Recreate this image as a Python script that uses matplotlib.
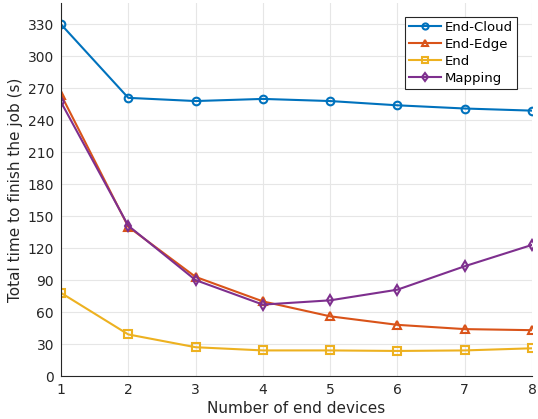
import matplotlib
matplotlib.use("Agg")
import matplotlib.pyplot as plt

# number of end devices
devices = [1, 2, 3, 4, 5, 6, 7, 8]

# total time to finish the job (s)
end_cloud = [330, 261, 258, 260, 258, 254, 251, 249]
end_edge = [264, 140, 93, 70, 56, 48, 44, 43]
end_only = [78, 39, 27, 24, 24, 23.5, 24, 26]
mapping = [257, 141, 90, 67, 71, 81, 103, 123]

yticks = list(range(0, 331, 30))

fig = plt.figure(figsize=(5.38, 4.19), dpi=100)
ax = fig.add_axes([61 / 538, 43 / 419, 471 / 538, 373 / 419])

style = dict(linewidth=1.5, markersize=5.5, markerfacecolor="none", markeredgewidth=1.5)
ax.plot(devices, end_cloud, "-o", color="#0072BD", label="End-Cloud", **style)
ax.plot(devices, end_edge, "-^", color="#D95319", label="End-Edge", **style)
ax.plot(devices, end_only, "-s", color="#EDB120", label="End", **style)
ax.plot(devices, mapping, "-d", color="#7E2F8E", label="Mapping", **style)

ax.set_xlim(1, 8)
ax.set_ylim(0, 350)
ax.set_xticks(devices)
ax.set_yticks(yticks)
ax.grid(True, color="#e6e6e6", linewidth=0.8)
ax.set_axisbelow(True)

for s in ["top", "right"]:
    ax.spines[s].set_visible(False)
for s in ["left", "bottom"]:
    ax.spines[s].set_color("#262626")
ax.tick_params(colors="#262626", labelsize=10, direction="in", length=0, pad=5)

ax.set_xlabel("Number of end devices", fontsize=11, color="#262626", labelpad=3)
ax.set_ylabel("Total time to finish the job (s)", fontsize=11, color="#262626", labelpad=3)

leg = ax.legend(loc="upper right", fontsize=9.5, fancybox=False, framealpha=1,
                edgecolor="#262626", handlelength=2.4, borderpad=0.3,
                labelspacing=0.3, handletextpad=0.3, borderaxespad=0,
                markerscale=0.8,
                bbox_to_anchor=(517 / 538, 1 - 17 / 419),
                bbox_transform=fig.transFigure)
leg.get_frame().set_linewidth(0.8)

plt.savefig("out.png", dpi=100)
